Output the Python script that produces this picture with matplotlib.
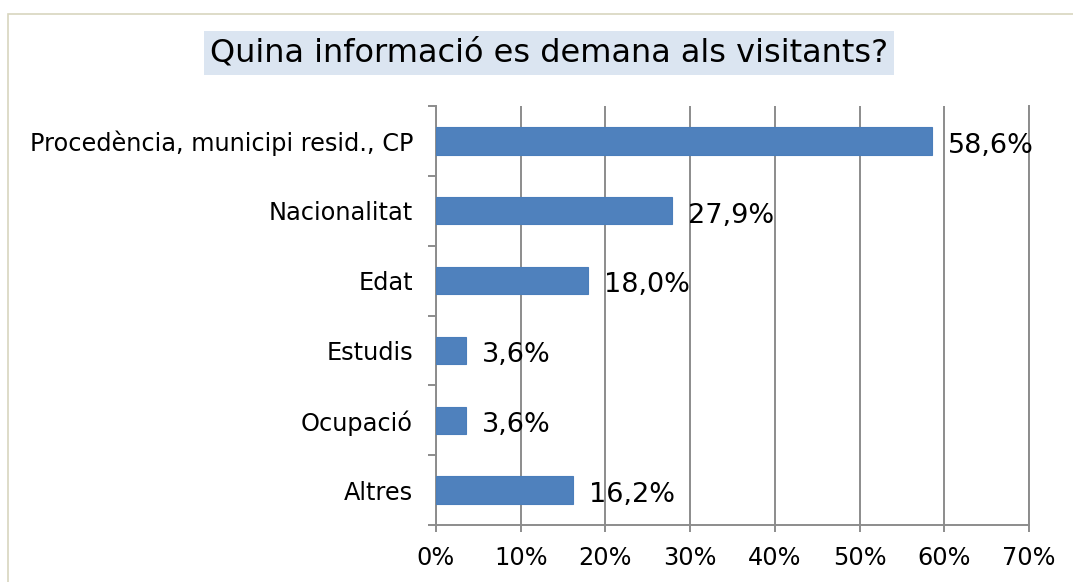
import matplotlib.pyplot as plt
from matplotlib.patches import Rectangle
import numpy as np

# data
categories = ["Procedència, municipi resid., CP", "Nacionalitat", "Edat",
              "Estudis", "Ocupació", "Altres"]
values = [58.6, 27.9, 18.0, 3.6, 3.6, 16.2]
xticks = [0, 10, 20, 30, 40, 50, 60, 70]

fig = plt.figure(figsize=(10.73, 5.82), dpi=100)
ax = fig.add_axes([436/1073, 1 - 525/582, (1029 - 436)/1073, (525 - 106)/582])

# outer frame of the chart object
fig.patches.append(Rectangle((8/1073, -0.2), 1.1, 1.2 - 14/582,
                             transform=fig.transFigure, fill=False,
                             edgecolor="#d8d5bf", linewidth=1.2))

y = np.arange(len(categories))
ax.barh(y, values, height=0.39, color="#4f81bd", edgecolor="#4a7ebb",
        linewidth=0.8, zorder=3)

for yi, v in zip(y, values):
    ax.annotate(f"{v:.1f}%".replace(".", ","), (v, yi), xytext=(11, -3.5),
                textcoords="offset points", va="center", ha="left",
                fontsize=19.5, color="#000000", zorder=4)

ax.set_xlim(0, 70)
ax.set_ylim(len(categories) - 0.5, -0.5)
ax.set_xticks(xticks)
ax.set_xticklabels([f"{t}%" for t in xticks])
ax.set_yticks(y)
ax.set_yticklabels(categories)
ax.set_yticks(np.arange(-0.5, len(categories)), minor=True)

ax.grid(axis="x", color="#8c8c8c", linewidth=1.4, zorder=1)
ax.set_axisbelow(True)
ax.spines["top"].set_visible(False)
for s in ["left", "bottom", "right"]:
    ax.spines[s].set_color("#8c8c8c")
    ax.spines[s].set_linewidth(1.4)

ax.tick_params(axis="y", which="major", length=0, pad=16.5, labelsize=17.3)
ax.tick_params(axis="y", which="minor", length=6, width=1.4, color="#8c8c8c",
               right=False)
ax.tick_params(axis="x", which="major", length=5, width=1.4, color="#8c8c8c",
               pad=10, labelsize=17.3)

fig.text(549/1073, 1 - 53/582, "Quina informació es demana als visitants?",
         ha="center", va="center", fontsize=23,
         bbox=dict(boxstyle="square,pad=0.2", facecolor="#dbe5f1",
                   edgecolor="none"))

fig.savefig("out.png", dpi=100)
